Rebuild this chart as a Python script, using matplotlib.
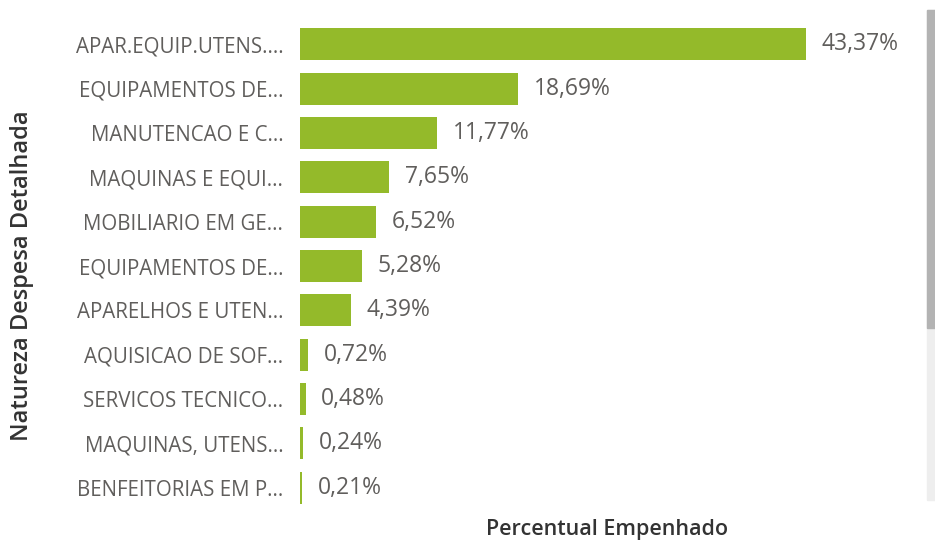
import matplotlib.pyplot as plt
from matplotlib.patches import Rectangle

categories = [
    "APAR.EQUIP.UTENS....",
    "EQUIPAMENTOS DE...",
    "MANUTENCAO E C...",
    "MAQUINAS E EQUI...",
    "MOBILIARIO EM GE...",
    "EQUIPAMENTOS DE...",
    "APARELHOS E UTEN...",
    "AQUISICAO DE SOF...",
    "SERVICOS TECNICO...",
    "MAQUINAS, UTENS...",
    "BENFEITORIAS EM P...",
]
percent = [43.37, 18.69, 11.77, 7.65, 6.52, 5.28, 4.39, 0.72, 0.48, 0.24, 0.21]

plt.rcParams["font.family"] = ["Open Sans", "DejaVu Sans"]

bar_color = "#94BA2A"
text_color = "#605E5C"
title_color = "#333333"

fig = plt.figure(figsize=(9.35, 5.42), dpi=100)
ax = fig.add_axes([300 / 935, 1 - 510 / 542, 583 / 935, 488 / 542])

y = list(range(len(categories)))
ax.barh(y, percent, height=0.72, color=bar_color)
ax.set_xlim(0, 50)
ax.set_ylim(len(categories) - 0.5, -0.5)

for yi, v in zip(y, percent):
    ax.text(v + 1.35, yi, f"{v:.2f}%".replace(".", ","), va="center", ha="left",
            fontsize=16.5, color=text_color)

ax.set_yticks(y)
ax.set_yticklabels(categories, fontsize=14.8, color=text_color)
ax.tick_params(axis="y", length=0, pad=12)
ax.set_xticks([])
for s in ax.spines.values():
    s.set_visible(False)

fig.text(22 / 935, 1 - 276 / 542, "Natureza Despesa Detalhada", rotation=90,
         ha="center", va="center", fontsize=17, color=title_color, fontweight="semibold")
fig.text(607 / 935, 1 - 529 / 542, "Percentual Empenhado", ha="center", va="center",
         fontsize=15.5, color=title_color, fontweight="semibold")

# scrollbar on the right edge
fig.patches.append(Rectangle((927 / 935, 1 - 500 / 542), 8 / 935, 490 / 542,
                             transform=fig.transFigure, color="#eeeeee"))
fig.patches.append(Rectangle((927 / 935, 1 - 328 / 542), 8 / 935, 318 / 542,
                             transform=fig.transFigure, color="#b3b3b3"))

fig.savefig("out.png", dpi=100)
